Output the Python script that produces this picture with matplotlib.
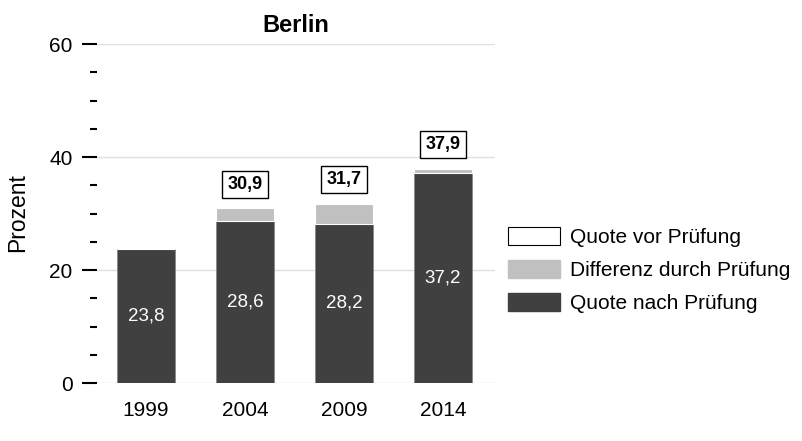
import numpy as np
import matplotlib
matplotlib.use("Agg")
import matplotlib.pyplot as plt
from matplotlib.patches import Patch
from matplotlib.ticker import MultipleLocator

plt.rcParams['font.family'] = ['Liberation Sans', 'DejaVu Sans']

years = ["1999", "2004", "2009", "2014"]
quote_nach = [23.8, 28.6, 28.2, 37.2]
quote_vor = [23.8, 30.9, 31.7, 37.9]
differenz = [v - n for v, n in zip(quote_vor, quote_nach)]
boxed = [None, "30,9", "31,7", "37,9"]

dark = "#404040"
grey = "#c0c0c0"

fig = plt.figure(figsize=(8.03, 4.41), dpi=100)
ax = fig.add_axes([0.1208, 0.1315, 0.4956, 0.7687])

x = np.arange(len(years))
w = 0.59
ax.bar(x, quote_nach, w, color=dark, edgecolor="#888888", linewidth=0.6, zorder=3)
ax.bar(x, differenz, w, bottom=quote_nach, color=grey, edgecolor="white",
       linewidth=0.8, zorder=3)

for xi, n in zip(x, quote_nach):
    ax.text(xi, n / 2, f"{n:.1f}".replace(".", ","), ha="center", va="center",
            color="white", fontsize=13.5, zorder=4)

for xi, v, lab in zip(x, quote_vor, boxed):
    if lab is None:
        continue
    ax.text(xi, v + 4.3, lab, ha="center", va="center", fontsize=13,
            fontweight="bold", zorder=4,
            bbox=dict(boxstyle="square,pad=0.28", facecolor="white",
                      edgecolor="black", linewidth=1.0))

ax.set_xlim(-0.495, 3.525)
ax.set_ylim(0, 60)
ax.set_xticks(x)
ax.set_xticklabels(years, fontsize=15)
ax.tick_params(axis="x", length=0, pad=13)
ax.yaxis.set_major_locator(MultipleLocator(20))
ax.yaxis.set_minor_locator(MultipleLocator(5))
ax.tick_params(axis="y", which="major", length=10.5, width=1.5, pad=7, labelsize=15)
ax.tick_params(axis="y", which="minor", length=5, width=1.5)
ax.yaxis.grid(True, which="major", color="#e0e0e0", linewidth=1, zorder=0)
for s in ax.spines.values():
    s.set_visible(False)
fig.text(18 / 803, 1 - 213 / 441, "Prozent", rotation=90, ha="center",
         va="center", fontsize=16.5)
ax.set_title("Berlin", fontsize=17, fontweight="bold", pad=9)

handles = [Patch(facecolor="white", edgecolor="black", linewidth=0.8),
           Patch(facecolor=grey, edgecolor=grey),
           Patch(facecolor=dark, edgecolor=dark)]
labels = ["Quote vor Prüfung", "Differenz durch Prüfung", "Quote nach Prüfung"]
fig.legend(handles, labels, loc="center left", bbox_to_anchor=(0.6326, 0.388),
           frameon=False, fontsize=15, handlelength=2.5, handleheight=1.0,
           labelspacing=0.6, handletextpad=0.5, borderaxespad=0, borderpad=0)

fig.savefig("out.png", dpi=100)
